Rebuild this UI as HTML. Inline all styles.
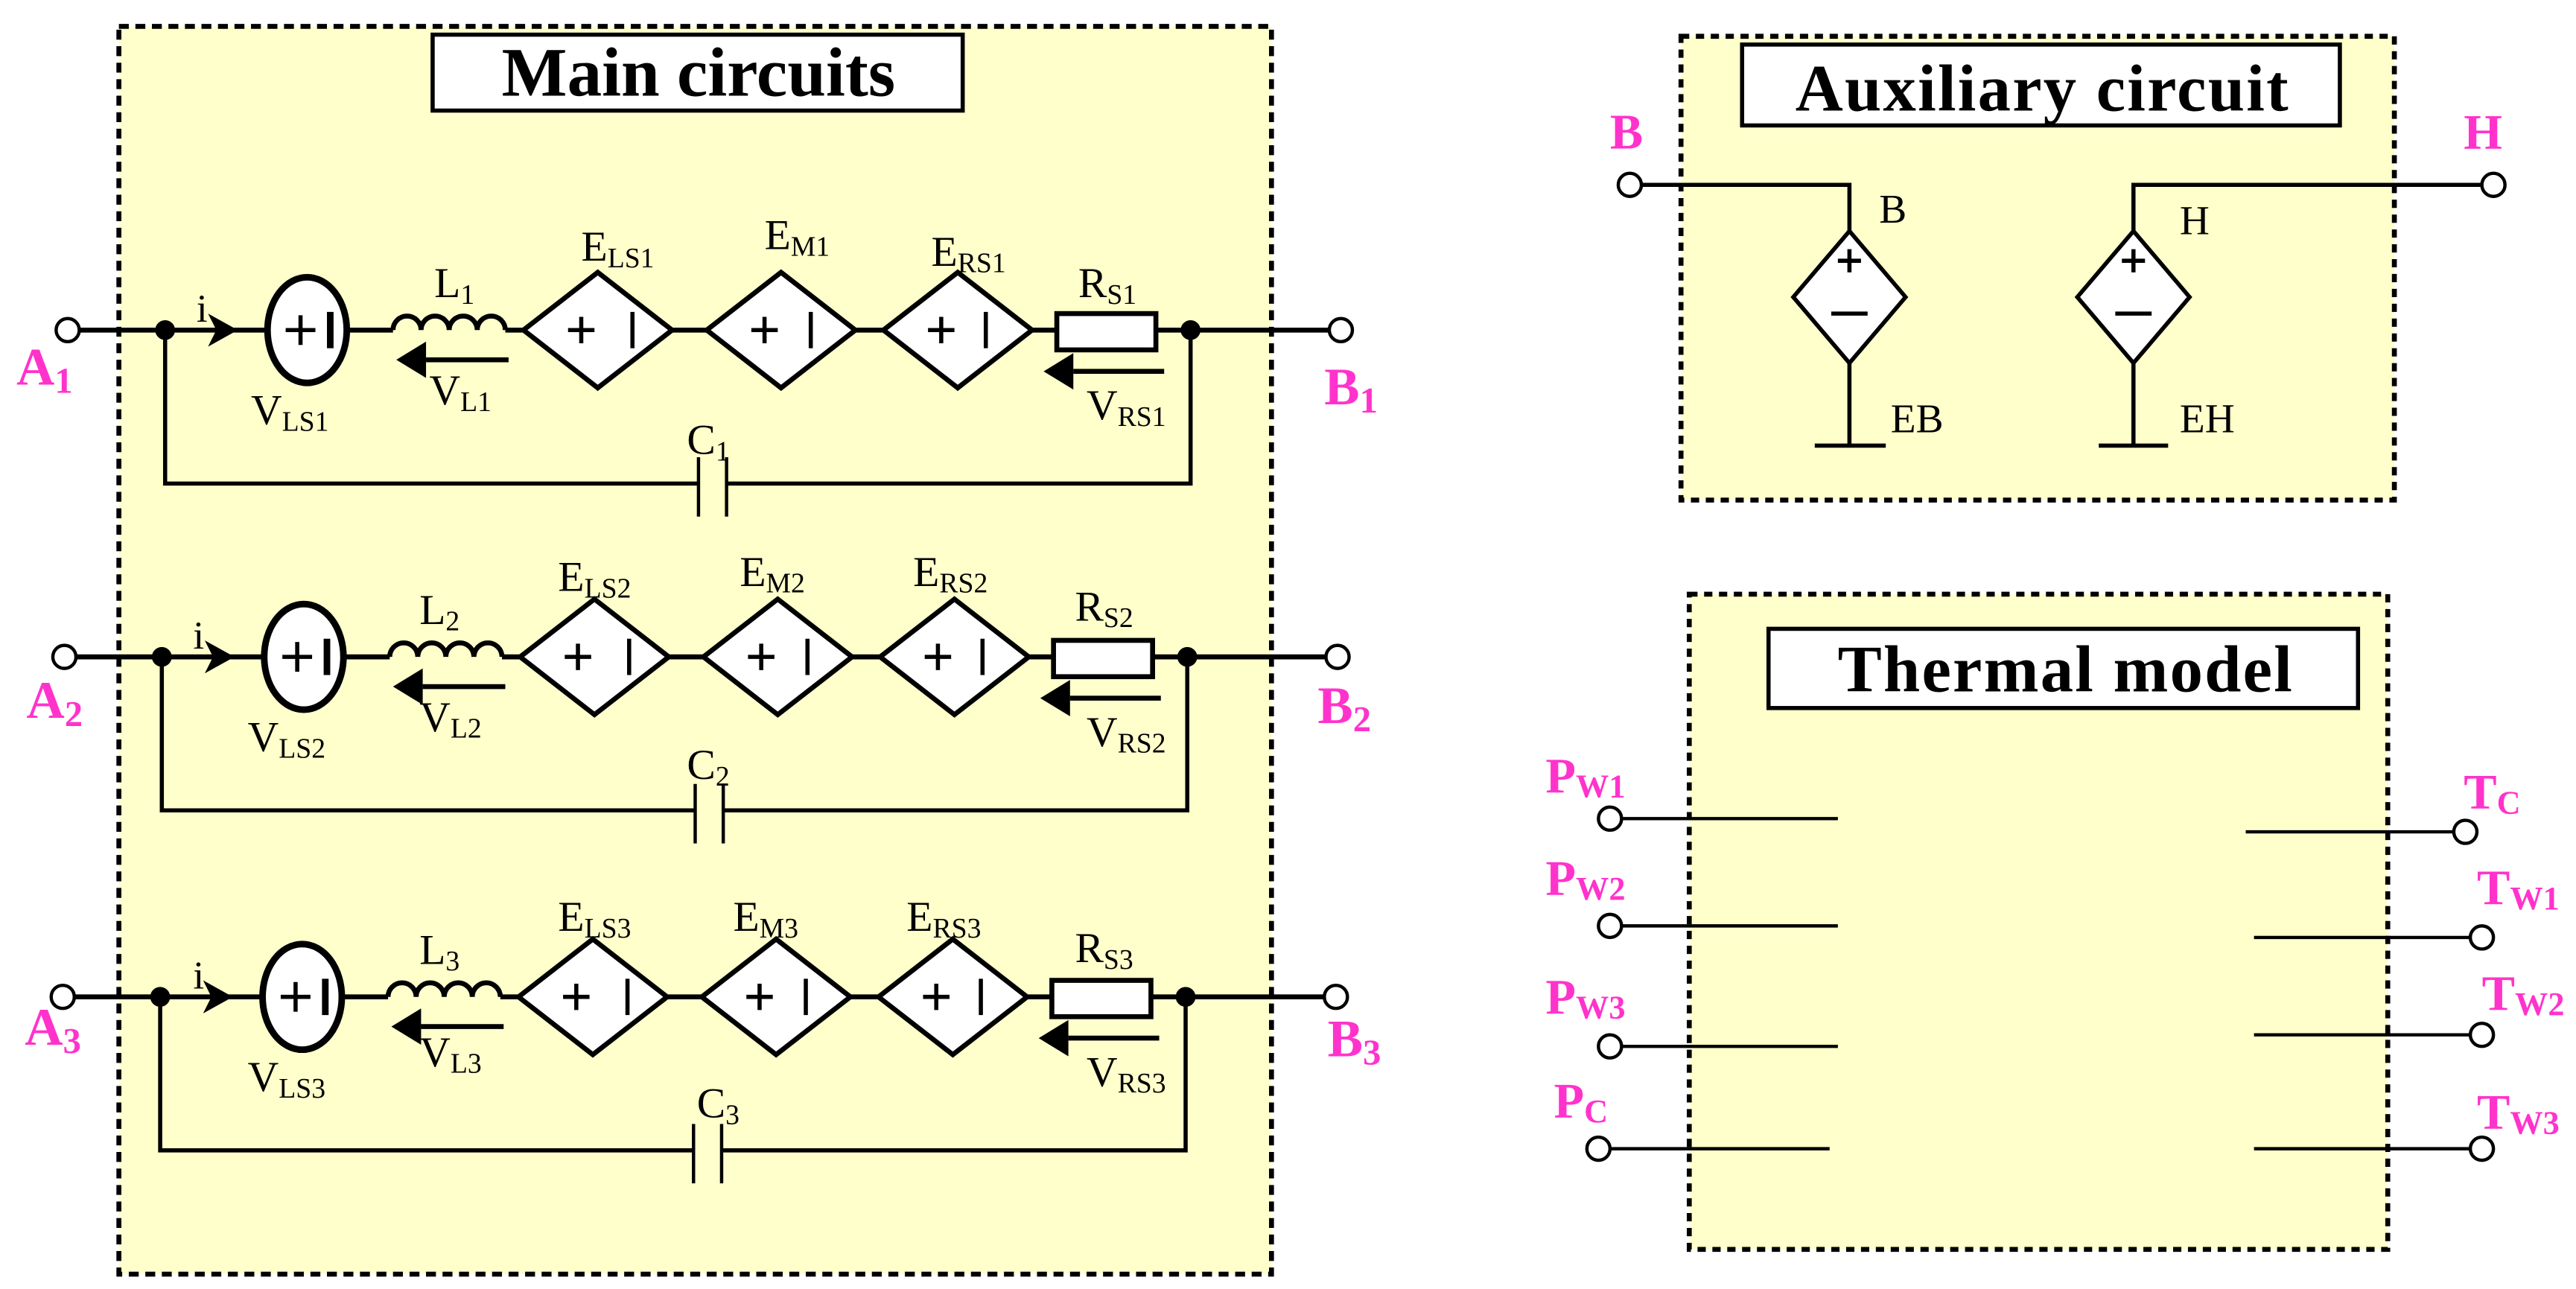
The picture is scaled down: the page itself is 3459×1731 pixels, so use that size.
<!DOCTYPE html>
<html><head><meta charset="utf-8"><style>
html,body{margin:0;padding:0;background:#fff;}
svg{display:block;}
text{font-family:"Liberation Serif",serif;}
.p{fill:#ff33cc;font-weight:bold;}
</style></head><body>
<svg width="3459" height="1731" viewBox="0 0 1560 781" preserveAspectRatio="none" xmlns="http://www.w3.org/2000/svg">
<defs>
<g id="row" fill="none" stroke="#000" stroke-width="3">
  <path d="M48,200 H162 M210,200 H238 M306,200 H317 M407,200 H428 M518,200 H535 M625,200 H640 M700,200 H805"/>
  <circle cx="41" cy="200" r="7" stroke-width="2" fill="#fff"/>
  <circle cx="812" cy="200" r="7" stroke-width="2" fill="#fff"/>
  <ellipse cx="186" cy="200" rx="24" ry="32" stroke-width="4" fill="#fff"/>
  <path d="M173,200 h18 M182,191 v18" stroke-width="2.5"/>
  <path d="M200,189 v22" stroke-width="4"/>
  <path d="M238,200 a8.5,8.5 0 0 1 17,0 a8.5,8.5 0 0 1 17,0 a8.5,8.5 0 0 1 17,0 a8.5,8.5 0 0 1 17,0"/>
  <path d="M317,200 L362,165 L407,200 L362,235 Z" fill="#fff"/>
  <path d="M428,200 L473,165 L518,200 L473,235 Z" fill="#fff"/>
  <path d="M535,200 L580,165 L625,200 L580,235 Z" fill="#fff"/>
  <path d="M344,200 h16 M352,192 v16 M383,189 v22 M455,200 h16 M463,192 v16 M491,189 v22 M562,200 h16 M570,192 v16 M597,189 v22" stroke-width="2.5"/>
  <rect x="640" y="190" width="60" height="22" fill="#fff"/>
  <path d="M100,200 V293 H423 M440,293 H721 V200" stroke-width="2.5"/>
  <path d="M423,277 V313 M440,277 V313" stroke-width="2"/>
  <path d="M308,218 H258 M705,225 H650" stroke-width="3"/>
  <circle cx="100" cy="200" r="4.5" fill="#000"/>
  <circle cx="721" cy="200" r="4.5" fill="#000"/>
</g>
<g id="heads" fill="#000">
  <path d="M126,190 L144,200 L126,210 L131,200 Z"/>
  <path d="M240,218 L258,207 L258,229 Z"/>
  <path d="M632,225 L650,214 L650,236 Z"/>
</g>
</defs>
<rect x="72" y="16" width="698" height="756" fill="#ffffcc" stroke="#000" stroke-width="3" stroke-dasharray="6,4"/>
<rect x="262" y="21" width="321" height="46" fill="#fff" stroke="#000" stroke-width="2.5"/>
<text x="423" y="58" font-size="42" font-weight="bold" text-anchor="middle">Main circuits</text>

<g><use href="#row"/><use href="#heads"/></g>
<g transform="translate(-2,198)"><use href="#row"/><use href="#heads"/></g>
<g transform="translate(-3,404)"><use href="#row"/><use href="#heads"/></g>

<g font-size="26">
<text x="119" y="195" font-size="24">i</text>
<text x="152" y="257">V<tspan font-size="17" dy="4">LS1</tspan></text>
<text x="263" y="180">L<tspan font-size="17" dy="4">1</tspan></text>
<text x="260" y="245">V<tspan font-size="17" dy="4">L1</tspan></text>
<text x="352" y="158">E<tspan font-size="17" dy="4">LS1</tspan></text>
<text x="463" y="151">E<tspan font-size="17" dy="4">M1</tspan></text>
<text x="564" y="161">E<tspan font-size="17" dy="4">RS1</tspan></text>
<text x="653" y="180">R<tspan font-size="17" dy="4">S1</tspan></text>
<text x="658" y="254">V<tspan font-size="17" dy="4">RS1</tspan></text>
<text x="416" y="275">C<tspan font-size="17" dy="4">1</tspan></text>

<text x="117" y="393" font-size="24">i</text>
<text x="150" y="455">V<tspan font-size="17" dy="4">LS2</tspan></text>
<text x="254" y="378">L<tspan font-size="17" dy="4">2</tspan></text>
<text x="254" y="443">V<tspan font-size="17" dy="4">L2</tspan></text>
<text x="338" y="358">E<tspan font-size="17" dy="4">LS2</tspan></text>
<text x="448" y="355">E<tspan font-size="17" dy="4">M2</tspan></text>
<text x="553" y="355">E<tspan font-size="17" dy="4">RS2</tspan></text>
<text x="651" y="376">R<tspan font-size="17" dy="4">S2</tspan></text>
<text x="658" y="452">V<tspan font-size="17" dy="4">RS2</tspan></text>
<text x="416" y="472">C<tspan font-size="17" dy="4">2</tspan></text>

<text x="117" y="599" font-size="24">i</text>
<text x="150" y="661">V<tspan font-size="17" dy="4">LS3</tspan></text>
<text x="254" y="584">L<tspan font-size="17" dy="4">3</tspan></text>
<text x="254" y="646">V<tspan font-size="17" dy="4">L3</tspan></text>
<text x="338" y="564">E<tspan font-size="17" dy="4">LS3</tspan></text>
<text x="444" y="564">E<tspan font-size="17" dy="4">M3</tspan></text>
<text x="549" y="564">E<tspan font-size="17" dy="4">RS3</tspan></text>
<text x="651" y="583">R<tspan font-size="17" dy="4">S3</tspan></text>
<text x="658" y="658">V<tspan font-size="17" dy="4">RS3</tspan></text>
<text x="422" y="677">C<tspan font-size="17" dy="4">3</tspan></text>
</g>
<g class="p" font-size="32">
<text x="10" y="233">A<tspan font-size="22" dy="5">1</tspan></text>
<text x="802" y="245">B<tspan font-size="22" dy="5">1</tspan></text>
<text x="16" y="435">A<tspan font-size="22" dy="5">2</tspan></text>
<text x="798" y="438">B<tspan font-size="22" dy="5">2</tspan></text>
<text x="15" y="633">A<tspan font-size="22" dy="5">3</tspan></text>
<text x="804" y="640">B<tspan font-size="22" dy="5">3</tspan></text>
</g>

<rect x="1018" y="22" width="432" height="281" fill="#ffffcc" stroke="#000" stroke-width="3" stroke-dasharray="5,4"/>
<rect x="1055" y="27" width="362" height="49" fill="#fff" stroke="#000" stroke-width="2.5"/>
<text x="1237" y="67" font-size="40" font-weight="bold" text-anchor="middle" letter-spacing="1">Auxiliary circuit</text>
<g fill="none" stroke="#000" stroke-width="2.5">
<path d="M994,112 H1120 V140 M1120,220 V270 M1099,270 H1142"/>
<path d="M1120,140 L1154,180 L1120,220 L1086,180 Z" fill="#fff"/>
<path d="M1113,158 h14 M1120,151 v14 M1109,190 h22"/>
<path d="M1503,112 H1292 V140 M1292,220 V270 M1271,270 H1313"/>
<path d="M1292,140 L1326,180 L1292,220 L1258,180 Z" fill="#fff"/>
<path d="M1285,158 h14 M1292,151 v14 M1281,190 h22"/>
<circle cx="987" cy="112" r="7" fill="#fff" stroke-width="2"/>
<circle cx="1510" cy="112" r="7" fill="#fff" stroke-width="2"/>
</g>
<g font-size="25">
<text x="1138" y="135">B</text>
<text x="1320" y="142">H</text>
<text x="1145" y="262">EB</text>
<text x="1320" y="262">EH</text>
</g>
<g class="p" font-size="30"><text x="975" y="90">B</text><text x="1492" y="90">H</text></g>

<rect x="1023" y="360" width="423" height="397" fill="#ffffcc" stroke="#000" stroke-width="3" stroke-dasharray="5,4"/>
<rect x="1071" y="381" width="357" height="48" fill="#fff" stroke="#000" stroke-width="2.5"/>
<text x="1251" y="419" font-size="40" font-weight="bold" text-anchor="middle" letter-spacing="1">Thermal model</text>
<g fill="none" stroke="#000" stroke-width="2">
<path d="M982,496 H1113 M982,561 H1113 M982,634 H1113 M975,696 H1108"/>
<path d="M1360,504 H1486 M1365,568 H1496 M1365,627 H1496 M1365,696 H1496"/>
<g fill="#fff"><circle cx="975" cy="496" r="7"/><circle cx="975" cy="561" r="7"/><circle cx="975" cy="634" r="7"/><circle cx="968" cy="696" r="7"/>
<circle cx="1493" cy="504" r="7"/><circle cx="1503" cy="568" r="7"/><circle cx="1503" cy="627" r="7"/><circle cx="1503" cy="696" r="7"/></g>
</g>
<g class="p" font-size="30">
<text x="936" y="480">P<tspan font-size="20" dy="3">W1</tspan></text>
<text x="936" y="542">P<tspan font-size="20" dy="3">W2</tspan></text>
<text x="936" y="614">P<tspan font-size="20" dy="3">W3</tspan></text>
<text x="941" y="677">P<tspan font-size="20" dy="3">C</tspan></text>
<text x="1492" y="490">T<tspan font-size="20" dy="3">C</tspan></text>
<text x="1500" y="548">T<tspan font-size="20" dy="3">W1</tspan></text>
<text x="1503" y="612">T<tspan font-size="20" dy="3">W2</tspan></text>
<text x="1500" y="684">T<tspan font-size="20" dy="3">W3</tspan></text>
</g>
</svg>
</body></html>
